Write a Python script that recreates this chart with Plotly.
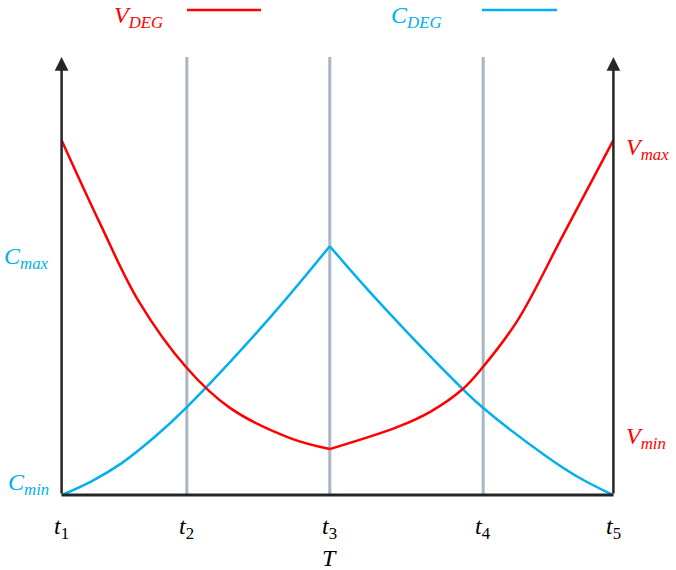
import plotly.graph_objects as go

# ---- data (normalised units: time 0..10, value 0..10) ----
t_pos = [0, 2.27, 4.86, 7.64, 10]
t_labels = ["<i>t</i><sub>1</sub>", "<i>t</i><sub>2</sub>", "<i>t</i><sub>3</sub>",
            "<i>t</i><sub>4</sub>", "<i>t</i><sub>5</sub>"]

v_left_x = [0, 0.70, 1.385, 2.27, 3.05, 4.14, 4.86]
v_left_y = [8.10, 6.19, 4.45, 2.90, 1.99, 1.30, 1.05]
v_right_x = [4.86, 6.08, 6.68, 7.27, 7.62, 8.27, 9.09, 10]
v_right_y = [1.05, 1.55, 1.90, 2.42, 2.90, 4.00, 5.94, 8.10]

c_left_x = [0, 0.55, 1.09, 1.69, 2.27, 3.74, 4.86]
c_left_y = [0, 0.32, 0.73, 1.33, 2.01, 4.00, 5.68]
c_right_x = [4.86, 5.72, 7.27, 7.62, 8.80, 9.39, 10]
c_right_y = [5.68, 4.45, 2.42, 2.01, 0.87, 0.39, 0]

grid_t = [2.27, 4.86, 7.64]
axis_top = 10

RED = "#FF0000"
BLUE = "#00B0F0"
GREY = "#A9B6C3"
AXIS = "#262626"
FONT = "Liberation Serif"
FS = 24

fig = go.Figure()

# grey vertical lines
for gx in grid_t:
    fig.add_trace(go.Scatter(x=[gx, gx], y=[0, axis_top], mode="lines",
                             line=dict(color=GREY, width=3), showlegend=False,
                             hoverinfo="skip"))

# blue curve
for xs, ys in [(c_left_x, c_left_y), (c_right_x, c_right_y)]:
    fig.add_trace(go.Scatter(x=xs, y=ys, mode="lines",
                             line=dict(color=BLUE, width=2.5, shape="spline", smoothing=1.1),
                             showlegend=False))
# red curve
for xs, ys in [(v_left_x, v_left_y), (v_right_x, v_right_y)]:
    fig.add_trace(go.Scatter(x=xs, y=ys, mode="lines",
                             line=dict(color=RED, width=2.5, shape="spline", smoothing=1.0),
                             showlegend=False))

# bottom axis line
fig.add_trace(go.Scatter(x=[t_pos[0], t_pos[-1]], y=[0, 0], mode="lines",
                         line=dict(color=AXIS, width=3), showlegend=False))

MARGIN_T, MARGIN_B, H = 35, 53, 570
PLOT_H = H - MARGIN_T - MARGIN_B


def px_x(p):
    return (p - 34) / 607


def px_y(p):
    return (H - MARGIN_B - p) / PLOT_H


annotations = []
# vertical axis arrows
for ax_x in [t_pos[0], t_pos[-1]]:
    annotations.append(dict(x=ax_x, y=axis_top, ax=ax_x, ay=0, xref="x", yref="y",
                            axref="x", ayref="y", showarrow=True, arrowhead=2,
                            arrowsize=1.1, arrowwidth=2.5, arrowcolor=AXIS, text="",
                            standoff=0, startstandoff=0))

# tick labels
for tx, tl in zip(t_pos, t_labels):
    annotations.append(dict(x=tx, y=px_y(528), xref="x", yref="paper", text=tl,
                            showarrow=False,
                            font=dict(family=FONT, size=FS, color="black"),
                            xanchor="center", yanchor="middle"))
annotations.append(dict(x=t_pos[2], y=px_y(558), xref="x", yref="paper", text="<i>T</i>",
                        showarrow=False, font=dict(family=FONT, size=FS, color="black"),
                        xanchor="center", yanchor="middle"))


# value labels
def lab(x, y, text, color, anchor):
    annotations.append(dict(x=x, y=y, xref="x", yref="y", text=text, showarrow=False,
                            font=dict(family=FONT, size=FS, color=color),
                            xanchor=anchor, yanchor="middle"))


lab(-0.2, 5.4, "<i>C</i><sub><i>max</i></sub>", BLUE, "right")
lab(-0.2, 0.25, "<i>C</i><sub><i>min</i></sub>", BLUE, "right")
lab(10.2, 7.9, "<i>V</i><sub><i>max</i></sub>", RED, "left")
lab(10.2, 1.3, "<i>V</i><sub><i>min</i></sub>", RED, "left")

# custom legend
annotations.append(dict(x=px_x(138), y=px_y(0), xref="paper", yref="paper",
                        text="<i>V</i><sub><i>DEG</i></sub>", showarrow=False,
                        font=dict(family=FONT, size=FS, color=RED),
                        xanchor="center", yanchor="top"))
annotations.append(dict(x=px_x(416), y=px_y(0), xref="paper", yref="paper",
                        text="<i>C</i><sub><i>DEG</i></sub>", showarrow=False,
                        font=dict(family=FONT, size=FS, color=BLUE),
                        xanchor="center", yanchor="top"))
shapes = [
    dict(type="line", xref="paper", yref="paper", x0=px_x(187), x1=px_x(261),
         y0=px_y(10), y1=px_y(10), line=dict(color=RED, width=2.5)),
    dict(type="line", xref="paper", yref="paper", x0=px_x(482), x1=px_x(557),
         y0=px_y(10), y1=px_y(10), line=dict(color=BLUE, width=2.5)),
]

fig.update_layout(
    width=676, height=H,
    margin=dict(l=34, r=35, t=MARGIN_T, b=MARGIN_B),
    paper_bgcolor="white", plot_bgcolor="white",
    xaxis=dict(range=[-0.5, 10.5], visible=False, fixedrange=True),
    yaxis=dict(range=[-0.5, 10.5], visible=False, fixedrange=True),
    annotations=annotations, shapes=shapes, showlegend=False,
)

fig.write_html("out.html")
